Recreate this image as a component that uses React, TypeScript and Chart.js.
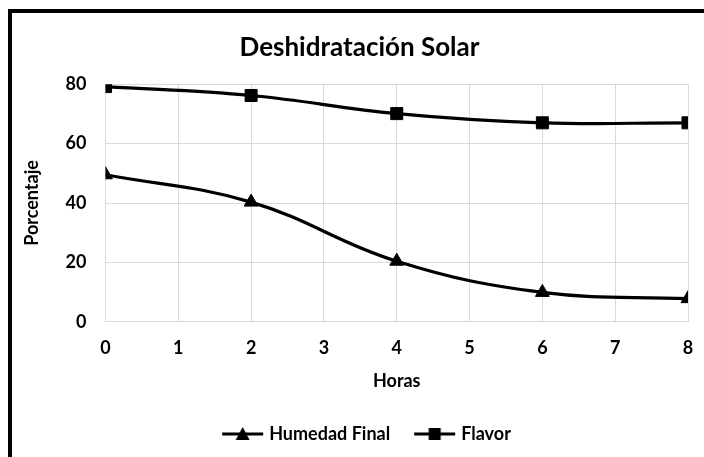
import React, { useEffect, useRef } from "react";
import { Chart, registerables } from "chart.js";

Chart.register(...registerables);

const horas = [0, 2, 4, 6, 8];
const humedadFinal = [49.5, 40.3, 20.4, 9.9, 7.8];
const flavor = [79.2, 76.2, 70.1, 67.0, 67.0];
const seriesNames = ["Humedad Final", "Flavor"];
const titleText = "Deshidratación Solar";
const xTitle = "Horas";
const yTitle = "Porcentaje";

const FONT = "Lato, 'Open Sans', sans-serif";

// legend symbol: line with marker, extra blank space on the left to space items
const LEG_BOX = 52;
function legendImage(kind: "triangle" | "square"): HTMLCanvasElement {
  const c = document.createElement("canvas");
  c.width = 60;
  c.height = 16;
  const ctx = c.getContext("2d")!;
  ctx.strokeStyle = "#000";
  ctx.fillStyle = "#000";
  ctx.lineWidth = 3;
  ctx.beginPath();
  ctx.moveTo(18, 8);
  ctx.lineTo(59, 8);
  ctx.stroke();
  ctx.beginPath();
  const cx = 38.5;
  if (kind === "triangle") {
    ctx.moveTo(cx, 1);
    ctx.lineTo(cx + 7, 14);
    ctx.lineTo(cx - 7, 14);
    ctx.closePath();
  } else {
    ctx.rect(cx - 6, 2, 12, 12);
  }
  ctx.fill();
  return c;
}

export default function App() {
  const ref = useRef<HTMLCanvasElement | null>(null);

  useEffect(() => {
    if (!ref.current) return;
    const tri = legendImage("triangle");
    const sq = legendImage("square");
    const chart = new Chart(ref.current, {
      type: "line",
      data: {
        datasets: [
          {
            label: seriesNames[0],
            data: horas.map((h, i) => ({ x: h, y: humedadFinal[i] })),
            borderColor: "#000",
            backgroundColor: "#000",
            borderWidth: 3.2,
            pointStyle: "triangle",
            pointRadius: 8,
            pointBorderWidth: 1,
            tension: 0.4,
          },
          {
            label: seriesNames[1],
            data: horas.map((h, i) => ({ x: h, y: flavor[i] })),
            borderColor: "#000",
            backgroundColor: "#000",
            borderWidth: 3.2,
            pointStyle: "rect",
            pointRadius: 8.5,
            pointBorderWidth: 1,
            tension: 0.4,
          },
        ],
      },
      options: {
        animation: false,
        responsive: false,
        layout: { padding: { left: 31, right: 16, top: 32, bottom: 4 } },
        plugins: {
          title: {
            display: true,
            text: titleText,
            color: "#000",
            font: { family: FONT, size: 26, weight: "bold" },
            padding: { top: 0, bottom: 21 },
          },
          legend: {
            position: "bottom",
            labels: {
              usePointStyle: true,
              pointStyleWidth: LEG_BOX,
              padding: 10,
              color: "#000",
              font: { family: FONT, size: 18, weight: "bold" },
              generateLabels: (ch: any) =>
                ch.data.datasets.map((d: any, i: number) => ({
                  text: d.label,
                  pointStyle: i === 0 ? tri : sq,
                  datasetIndex: i,
                  fillStyle: "#000",
                  strokeStyle: "#000",
                  lineWidth: 0,
                  hidden: false,
                })),
            },
          },
          tooltip: { enabled: false },
        },
        scales: {
          x: {
            type: "linear",
            min: 0,
            max: 8,
            afterFit: (scale: any) => {
              scale.paddingRight = 0;
            },
            ticks: {
              stepSize: 1,
              color: "#000",
              padding: 16,
              font: { family: FONT, size: 18, weight: "bold" },
            },
            grid: { color: "#d9d9d9", drawTicks: false },
            border: { color: "#d9d9d9" },
            title: {
              display: true,
              text: xTitle,
              color: "#000",
              font: { family: FONT, size: 18, weight: "bold" },
              padding: { top: -5, bottom: 23 },
            },
          },
          y: {
            min: 0,
            max: 80,
            ticks: {
              stepSize: 20,
              color: "#000",
              padding: 19,
              font: { family: FONT, size: 18, weight: "bold" },
            },
            grid: { color: "#d9d9d9", drawTicks: false },
            border: { color: "#d9d9d9" },
            title: {
              display: true,
              text: yTitle,
              color: "#000",
              font: { family: FONT, size: 18, weight: "bold" },
              padding: { top: -10, bottom: 4 },
            },
          },
        },
      },
    });
    return () => chart.destroy();
  }, []);

  return (
    <div style={{ position: "absolute", left: 0, top: 0, width: 704, height: 457, background: "#fff" }}>
      <div
        style={{
          position: "absolute",
          left: 8,
          top: 9,
          width: 696,
          height: 448,
          boxSizing: "border-box",
          borderLeft: "4px solid #000",
          borderTop: "4px solid #000",
        }}
      />
      <canvas ref={ref} width={704} height={457} style={{ position: "absolute", left: 0, top: 0 }} />
    </div>
  );
}
